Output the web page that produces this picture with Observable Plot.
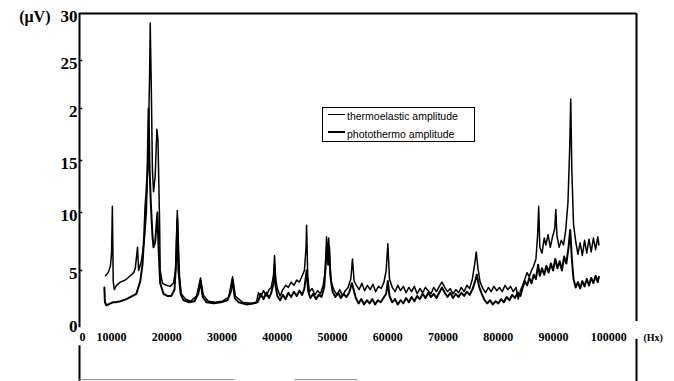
<!DOCTYPE html>
<html><head><meta charset="utf-8">
<script src="https://cdn.jsdelivr.net/npm/d3@7"></script>
<script src="https://cdn.jsdelivr.net/npm/@observablehq/plot@0.6"></script>
<style>
body{margin:0;background:#fff;}
#wrap{position:relative;width:674px;height:381px;overflow:hidden;background:#fff;}
#legend{position:absolute;left:322px;top:107px;width:153px;height:35px;border:1px solid #000;box-sizing:border-box;font-family:"Liberation Sans",Arial,sans-serif;font-size:10.5px;color:#000;}
#legend .row{position:absolute;left:5px;height:14px;line-height:14px;white-space:nowrap;}
#legend .sw{display:inline-block;width:17px;height:0;border-top:1px solid #000;vertical-align:middle;margin-right:2px;position:relative;top:-3px;}
#legend .sw.thick{border-top-width:2px;}
</style></head><body>
<div id="wrap"><div id="legend">
<div class="row" style="top:1px"><span class="sw"></span><span id="l1"></span></div>
<div class="row" style="top:19px"><span class="sw thick"></span><span id="l2"></span></div>
</div></div>
<script>
const seriesNames = ["thermoelastic amplitude", "photothermo amplitude"];

const thermoFreq = [8900,9400,9800,10000,10150,10300,10500,10900,11600,12500,13400,14000,14300,14700,14900,15400,15900,16300,16700,16900,17000,17200,17400,17600,17900,18200,18400,18700,18800,19200,19900,20600,21200,21600,21900,22300,22600,23400,24300,25400,26100,26600,27500,28800,30100,31200,31900,32400,33700,35200,36200,
36600,37000,37500,38000,38500,38900,39300,39500,39700,40000,40500,41000,41500,42000,42500,43000,43500,44000,44500,44900,45200,45300,45500,45800,46300,46800,47300,47800,48300,48700,48900,49100,49300,49500,49800,50300,50800,51300,51800,52300,52800,53300,53600,53900,54300,54800,55300,55800,56300,56800,57300,57800,58300,58800,59300,59700,60000,60300,60800,61300,61800,62300,62800,63300,63800,64300,64800,65300,65800,66300,66800,67300,67800,68300,68800,69300,69800,70300,70800,71300,71800,72300,72800,73300,73800,74300,74800,75300,75700,76000,76300,76700,77200,77700,78200,78700,79200,79700,80200,80700,81200,81700,82200,82700,83200,83600,84000,84400,84800,85200,85600,86000,86400,86800,87100,87300,87500,87900,88300,88600,89000,89400,89800,90200,90400,90600,91000,91400,91800,92200,92600,92900,93100,93300,93600,94000,94400,94800,95200,95600,96000,96400,96800,97200,97600,98000,98200];
const thermoAmp = [4.5,4.8,5.4,6.5,10.6,4.0,3.2,3.6,3.9,4.1,4.5,4.8,5.2,7.0,5.0,5.8,7.5,10,18,24,29,22,14,12,13.5,18,17,9,5,3.8,3.6,3.5,3.8,5,10.2,4.5,2.8,2.3,2.1,2.6,4.3,2.7,2.1,2.0,2.1,2.5,4.4,2.6,2.0,1.9,2.0,
2.9,2.5,3.1,2.6,3.2,3.4,4.5,6.3,4.2,3.3,2.6,3.2,3.6,3.4,3.9,3.6,4.1,3.9,4.5,5.0,7.0,8.9,4.5,3.0,3.3,2.7,3.1,2.8,3.6,5.0,7.9,6.3,7.8,5.5,3.8,3.1,2.7,3.2,2.6,3.1,3.4,4.2,6.0,4.0,3.6,3.2,3.8,3.1,3.6,3.2,3.7,3.0,3.5,3.3,3.9,5.0,7.3,4.2,3.4,3.0,3.6,3.1,3.5,2.9,3.4,3.0,3.5,2.8,3.3,2.9,3.4,3.1,2.8,3.4,3.0,3.5,3.9,3.4,3.0,3.3,2.8,3.2,2.9,3.4,3.0,3.6,3.3,4.2,5.5,6.6,5.2,3.9,3.3,2.9,3.4,3.0,3.5,3.1,3.4,3.0,3.6,3.2,3.5,3.0,3.4,2.3,3.1,3.6,4.2,4.8,4.4,5.0,5.4,6.0,8.0,10.6,7.0,6.5,7.8,7.2,8.1,7.0,7.9,8.6,10.3,8.0,7.0,7.6,7.2,8.5,11,16,21,14,9,7.5,6.4,7.4,6.3,7.6,6.5,7.7,6.6,7.8,6.8,7.9,7.2];

const photoFreq = [8700,8800,9100,9800,10300,10700,11600,12700,13800,14500,14900,15200,15600,15900,16100,16300,16500,16700,16900,17100,17400,17600,17900,18300,18500,18800,19400,20100,20800,21400,21700,21900,22100,22500,23000,24000,25000,25700,26100,26500,27200,28500,29800,31000,31600,31900,32300,33000,34500,35800,36400,
36600,37000,37500,38000,38500,38900,39300,39500,39700,40000,40500,41000,41500,42000,42500,43000,43500,44000,44500,44900,45300,45600,46000,46500,47000,47500,48000,48500,48800,49000,49200,49400,49600,50000,50500,51000,51500,52000,52500,53000,53500,53800,54200,54700,55200,55700,56200,56700,57200,57700,58200,58700,59200,59700,60000,60300,60800,61300,61800,62300,62800,63300,63800,64300,64800,65300,65800,66300,66800,67300,67800,68300,68800,69300,69800,70300,70800,71300,71800,72300,72800,73300,73800,74300,74800,75300,75800,76100,76500,77000,77500,78000,78500,79000,79500,80000,80500,81000,81500,82000,82500,83000,83500,84000,84400,84800,85200,85600,86000,86400,86800,87200,87500,87900,88300,88700,89100,89500,89900,90300,90700,91100,91500,91900,92300,92700,93000,93300,93600,94000,94400,94800,95200,95600,96000,96400,96800,97200,97600,98000,98200];
const photoAmp = [3.4,2.0,1.7,1.9,2.0,2.0,2.1,2.3,2.6,2.8,3.5,4.0,5.5,8.0,10.5,12,14,20,14,11,8,7,7.5,10,7,3.8,2.8,2.6,2.6,3.2,6,9.5,5,2.8,2.2,2.0,2.1,2.8,4.0,2.5,2.0,1.9,2.0,2.2,3.0,4.1,2.4,2.0,1.8,1.9,2.0,
2.2,2.8,2.3,2.9,2.4,2.9,3.8,5.5,3.5,2.6,2.2,2.7,2.3,2.9,2.5,3.0,2.6,3.1,2.7,3.3,5.0,3.0,2.4,2.8,2.3,2.7,2.5,3.5,6.0,7.2,5.5,7.0,4.5,3.0,2.5,2.9,2.4,2.8,2.5,2.9,3.8,3.2,2.4,1.9,2.3,1.8,2.2,1.9,2.3,1.8,2.2,2.0,2.4,2.8,4.0,2.6,2.0,2.3,1.8,2.2,1.9,2.4,2.0,2.5,2.1,2.6,2.3,2.8,2.4,2.9,2.5,2.8,2.4,2.9,3.4,2.9,2.5,2.9,2.4,2.8,2.5,2.9,2.6,3.0,2.7,3.2,4.0,4.6,3.5,2.8,2.2,1.9,2.2,1.8,2.1,1.9,2.3,2.0,2.5,2.2,2.7,2.4,2.9,2.6,3.4,4.0,3.6,4.3,3.8,4.6,4.2,5.5,4.5,5.2,4.6,5.4,4.8,5.6,5.0,6.0,5.2,5.8,5.0,6.2,5.6,7.0,8.5,6.0,4.2,3.4,3.9,3.3,4.0,3.5,4.2,3.6,4.3,3.8,4.5,3.9,4.4];

const yTicks = [0,5,10,15,20,25,30];
const yTickLabels = ["0","5","10","15","2","25","30"];
const xTicks = [10000,20000,30000,40000,50000,60000,70000,80000,90000,100000];
const xTickLabels = ["10000","20000","30000","40000","50000","60000","70000","80000","90000","100000"];
const yUnit = "(μV)";
const xUnit = "(Hx)";

const rows = [
  ...thermoFreq.map((f,i)=>({f, v: thermoAmp[i], s: seriesNames[0]})),
  ...photoFreq.map((f,i)=>({f, v: photoAmp[i], s: seriesNames[1]}))
];
document.getElementById("l1").textContent = seriesNames[0];
document.getElementById("l2").textContent = seriesNames[1];

const X0 = 4200, X1 = 105000;
const serif = "'Liberation Serif','Times New Roman',serif";

const plot = Plot.plot({
  width: 674, height: 381,
  marginLeft: 79, marginRight: 38, marginTop: 13, marginBottom: 58,
  x: {type: "linear", domain: [X0, X1], range: [79, 636], axis: null},
  y: {type: "linear", domain: [0,5,10,15,20,25,30], range: [323,270,212,160,108,60,13], axis: null},
  style: {background: "#fff", overflow: "visible"},
  marks: [
    Plot.ruleX([X0], {y1: -0.4, y2: 30, stroke: "#000", strokeWidth: 2}),
    Plot.ruleX([X0], {y1: -2.1, y2: -5.6, stroke: "#000", strokeWidth: 2}),
    Plot.ruleY([30], {x1: X0, x2: X1, stroke: "#000", strokeWidth: 2}),
    Plot.ruleX([X1], {y1: 0.2, y2: 30, stroke: "#000", strokeWidth: 2}),
    Plot.ruleX([X1], {y1: -1.5, y2: -5.6, stroke: "#000", strokeWidth: 2}),
    Plot.ruleY([-5.3], {x1: X0, x2: 32300, stroke: "#888", strokeWidth: 1}),
    Plot.ruleY([-5.3], {x1: 43200, x2: 54600, stroke: "#888", strokeWidth: 1}),
    Plot.ruleY(yTicks.slice(1, -1), {x1: X0, x2: X0 + 600, stroke: "#000", strokeWidth: 1.5}),
    Plot.text(yTicks.map((t,i)=>({t, l: yTickLabels[i]})), {x: X0, y: "t", text: "l", dx: -2, dy: 3, textAnchor: "end", fontSize: 17, fontFamily: serif, fontWeight: "bold", fill: "#000"}),
    Plot.text([30], {x: X0, y: d=>d, text: [yUnit], dx: -29, dy: 3, textAnchor: "end", fontSize: 16, fontFamily: serif, fontWeight: "bold", fill: "#000", style: "letter-spacing:3px"}),
    Plot.text(xTicks.map((t,i)=>({t, l: xTickLabels[i]})), {x: "t", y: 0, text: "l", dy: 14, textAnchor: "middle", fontSize: 12, fontFamily: serif, fontWeight: "bold", fill: "#000"}),
    Plot.text([0], {x: X0, y: 0, text: ["0"], dx: 3, dy: 14, textAnchor: "middle", fontSize: 12, fontFamily: serif, fontWeight: "bold", fill: "#000"}),
    Plot.text([0], {x: X1, y: 0, text: [xUnit], dx: 7, dy: 14, textAnchor: "start", fontSize: 10, fontFamily: serif, fontWeight: "bold", fill: "#000"}),
    Plot.line(rows, {x: "f", y: "v", z: "s", stroke: "#000", strokeWidth: d => d.s === seriesNames[0] ? 1.5 : 2, strokeLinejoin: "round"})
  ]
});
document.getElementById("wrap").prepend(plot);
</script>
</body></html>
